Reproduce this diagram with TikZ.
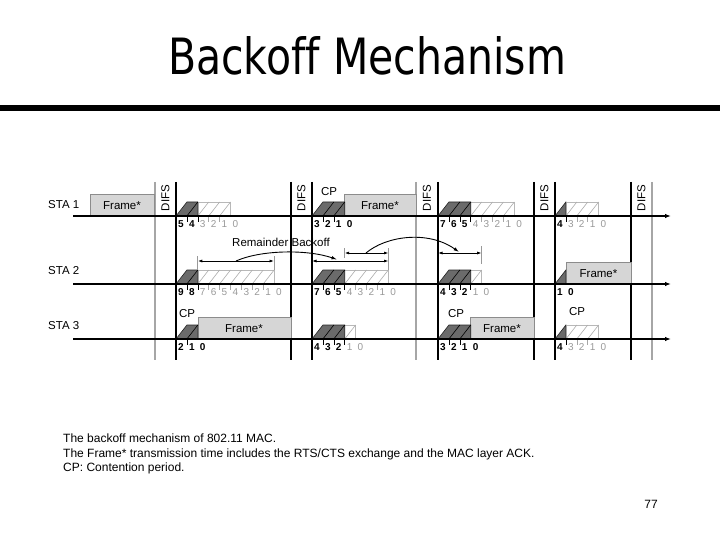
\documentclass[tikz,border=0pt]{standalone}
\usepackage{fontspec}
\setmainfont{Liberation Sans}
\newfontfamily\titlefont[Ligatures={NoCommon,NoRequired,NoContextual}]{DejaVu Sans}
\usetikzlibrary{arrows.meta}
\tikzset{
  vline/.style={line width=1.3pt, black},
  gline/.style={line width=1.3pt, black!35},
  axisline/.style={line width=1.8pt, -{Latex[length=6pt,width=4.5pt]}},
  darkslot/.style={fill=black!58, draw=black!85, line width=0.6pt},
  lightslot/.style={fill=white, draw=black!28, line width=0.6pt},
  lighthatch/.style={draw=black!32, line width=0.6pt},
  darkhatch/.style={draw=black, line width=0.6pt},
  framebox/.style={fill=black!16, draw=black!45, line width=0.6pt},
  lbl/.style={font=\fontsize{11.5}{13}\selectfont, inner sep=0pt},
  numblack/.style={font=\bfseries\fontsize{10}{12}\selectfont, inner sep=0pt},
  numgray/.style={font=\fontsize{10}{12}\selectfont, inner sep=0pt, text=black!40},
  dbl/.style={{Latex[length=4.5pt,width=3pt]}-{Latex[length=4.5pt,width=3pt]}, line width=0.8pt},
  curv/.style={-{Latex[length=5.5pt,width=3.5pt]}, line width=0.9pt},
  tickmark/.style={line width=0.6pt},
  endtick/.style={line width=0.8pt, black!40},
}
\newcommand\sw{10.9}
\newcommand\sh{14}
\newcommand\bo[5]{% start x, axis y, slots, dark slots, black labels
  \begin{scope}[shift={(#1,#2)}]
    \pgfmathtruncatemacro\bolast{#3-1}
    \ifnum#3>#4\relax
      \draw[lightslot] (#4*\sw,0) rectangle (#3*\sw,-\sh);
      \foreach \i in {#4,...,\bolast} \draw[lighthatch] (\i*\sw,0) -- ({(\i+1)*\sw},-\sh);
    \fi
    \draw[darkslot] (0,0) -- (\sw,-\sh) -- (#4*\sw,-\sh) -- (#4*\sw,0) -- cycle;
    \ifnum#4>1\relax
      \pgfmathtruncatemacro\bodk{#4-1}
      \foreach \i in {1,...,\bodk} \draw[darkhatch] (\i*\sw,0) -- ({(\i+1)*\sw},-\sh);
    \fi
    \ifnum#3>1\relax
      \foreach \i in {1,...,\bolast}{%
        \ifnum\i>#4\relax \draw[tickmark,black!35] (\i*\sw,0) -- (\i*\sw,6);
        \else \draw[tickmark,black] (\i*\sw,0) -- (\i*\sw,6); \fi}
    \fi
    \foreach \j in {0,...,#3}{%
      \pgfmathtruncatemacro\lab{#3-\j}%
      \ifnum\j<#5\relax
        \node[numblack] at ({(\j+0.45)*\sw},8.5) {\lab};
      \else
        \node[numgray] at ({(\j+0.45)*\sw},8.5) {\lab};
      \fi}
  \end{scope}}
\begin{document}
\begin{tikzpicture}[x=1pt,y=-1pt]
\useasboundingbox (0,0) rectangle (720,540);
% title and rule
\node[font=\titlefont\fontsize{50}{52}\selectfont, xscale=0.82, anchor=base, inner sep=0pt] (title) at (367,75) {Backof{}f Mechanism};
\draw[line width=6pt] (0,108) -- (720,108);
% vertical lines
\foreach \x in {155,416,652} \draw[gline] (\x,182) -- (\x,360);
\foreach \x in {176,291,312,438,534,555,631} \draw[vline] (\x,182) -- (\x,360);
% DIFS labels
\foreach \x/\n in {165.5/d1,301.5/d2,427/d3,544.5/d4,641.5/d5}
  \node[lbl, rotate=90] (\n) at (\x,198) {DIFS};
% station labels
\node[lbl, anchor=west] (sta1) at (48,205) {STA 1};
\node[lbl, anchor=west] (sta2) at (48,271) {STA 2};
\node[lbl, anchor=west] (sta3) at (48,326) {STA 3};
% frames
\draw[framebox] (90,216) rectangle (154,194);
\node[lbl] (f1) at (122,205.5) {Frame*};
\draw[framebox] (344.7,216) rectangle (416,194);
\node[lbl] (f2) at (380,205.5) {Frame*};
\draw[framebox] (565.9,284) rectangle (631,262);
\node[lbl] (f3) at (598.5,273.5) {Frame*};
\draw[framebox] (197.8,339) rectangle (291,317);
\node[lbl] (f4) at (244,328.5) {Frame*};
\draw[framebox] (470.7,339) rectangle (534,317);
\node[lbl] (f5) at (502,328.5) {Frame*};
% backoff slots
\bo{176}{216}{5}{2}{2}
\bo{312}{216}{3}{3}{4}
\bo{438}{216}{7}{3}{3}
\bo{555}{216}{4}{1}{1}
\bo{176}{284}{9}{2}{2}
\bo{312}{284}{7}{3}{3}
\bo{438}{284}{4}{3}{3}
\bo{555}{284}{1}{1}{2}
\bo{176}{339}{2}{2}{3}
\bo{312}{339}{4}{3}{3}
\bo{438}{339}{3}{3}{4}
\bo{555}{339}{4}{1}{1}
% CP labels
\node[lbl] (cp1) at (329,192) {CP};
\node[lbl] (cp2) at (187,314) {CP};
\node[lbl] (cp3) at (456,314) {CP};
\node[lbl] (cp4) at (577,312) {CP};
% axes
\foreach \y/\n in {216/a1,284/a2,339/a3} {
  \coordinate (\n s) at (73,\y); \coordinate (\n e) at (671,\y);
  \draw[axisline] (\n s) -- (\n e);}
% remainder backoff arrows
\coordinate (ra1) at (197.8,261); \coordinate (ra2) at (274,261);
\coordinate (rb1) at (312,261); \coordinate (rb2) at (388.5,261);
\coordinate (rc1) at (344.7,253); \coordinate (rc2) at (388.5,253);
\coordinate (rd1) at (438,253); \coordinate (rd2) at (481.6,253);
\draw[endtick] (197.8,256) -- (197.8,270);
\draw[endtick] (274,256) -- (274,270);
\draw[endtick] (388.5,248) -- (388.5,270);
\draw[endtick] (344.7,248) -- (344.7,258);
\draw[endtick] (481.6,246) -- (481.6,264);
\draw[dbl] (ra1) -- (ra2);
\draw[dbl] (rb1) -- (rb2);
\draw[dbl] (rc1) -- (rc2);
\draw[dbl] (rd1) -- (rd2);
\node[lbl] (rem) at (281,242) {Remainder Backoff};
\coordinate (c1s) at (236,261); \coordinate (c1e) at (337,259.5);
\coordinate (c2s) at (366,253); \coordinate (c2e) at (459,252);
\draw[curv] (c1s) .. controls (262,249.5) and (308,249.5) .. (c1e);
\draw[curv] (c2s) .. controls (386,236) and (428,230) .. (c2e);
% caption
\node[anchor=base west, inner sep=0pt, font=\fontsize{12}{14}\selectfont] (cap1) at (63,442.3) {The backoff mechanism of 802.11 MAC.};
\node[anchor=base west, inner sep=0pt, font=\fontsize{12}{14}\selectfont] (cap2) at (63,457.8) {The Frame* transmission time includes the RTS/CTS exchange and the MAC layer ACK.};
\node[anchor=base west, inner sep=0pt, font=\fontsize{12}{14}\selectfont] (cap3) at (63,471.8) {CP: Contention period.};
\node[anchor=base, inner sep=0pt, font=\fontsize{12}{14}\selectfont] (pg) at (651,508) {77};
\end{tikzpicture}
\end{document}
